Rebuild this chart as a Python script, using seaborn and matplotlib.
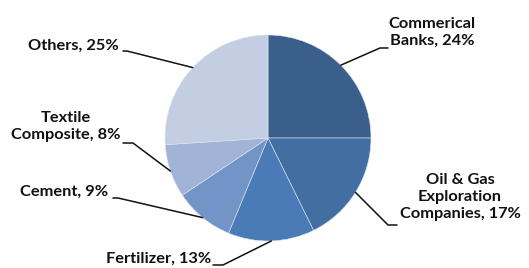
import matplotlib
matplotlib.use("Agg")
import matplotlib.pyplot as plt
import seaborn as sns
import numpy as np
from matplotlib.lines import Line2D

categories = ["Commerical\nBanks", "Oil & Gas\nExploration\nCompanies", "Fertilizer",
              "Cement", "Textile\nComposite", "Others"]
values = [24, 17, 13, 9, 8, 25]
colors = ["#3A5F8B", "#426EA2", "#4A7BB7", "#7394C6", "#A1B3D6", "#C3CEE3"]

sns.set_theme(style="white")
plt.rcParams['font.family'] = ['Lato', 'DejaVu Sans']

W, H = 529, 268
fig = plt.figure(figsize=(W / 100, H / 100), dpi=100)
cx, cy, r = 268, 130, 103
ax = fig.add_axes([(cx - r) / W, (cy - r) / H, 2 * r / W, 2 * r / H])
wedges, _ = ax.pie(values, colors=colors, startangle=90, counterclock=False,
                   wedgeprops=dict(edgecolor="#DDE4F0", linewidth=0.4))
ax.set_xlim(-1, 1)
ax.set_ylim(-1, 1)
ax.set_aspect("equal")

# label text centers (pixels, from top-left), anchor point, elbow
layout = [
    dict(pos=(432, 32), anchor=(388, 48), elbow=(380, 48)),
    dict(pos=(460, 197), anchor=(397, 225), elbow=(388, 225)),
    dict(pos=(159, 259), anchor=(213, 265), elbow=(223, 265)),
    dict(pos=(64, 192), anchor=(113, 198), elbow=(118, 198)),
    dict(pos=(66, 126.5), anchor=(123, 143), elbow=(133, 143)),
    dict(pos=(73, 46), anchor=(123, 51), elbow=(127, 51)),
]

for cat, v, w, lay in zip(categories, values, wedges, layout):
    txt = f"{cat}, {v}%"
    x, y = lay["pos"]
    fig.text(x / W, (H - y) / H, txt, ha="center", va="center", ma="center",
             fontsize=11.8, fontweight="bold", color="#111111", linespacing=1.24)
    th = np.deg2rad((w.theta1 + w.theta2) / 2)
    px, py = ax.transData.transform((np.cos(th), np.sin(th)))
    ax_, ay_ = lay["anchor"]
    ex, ey = lay["elbow"]
    line = Line2D([ax_, ex, px], [H - ay_, H - ey, py], transform=None,
                  color="#111111", linewidth=1.1)
    fig.add_artist(line)

fig.savefig("out.png", dpi=100)
